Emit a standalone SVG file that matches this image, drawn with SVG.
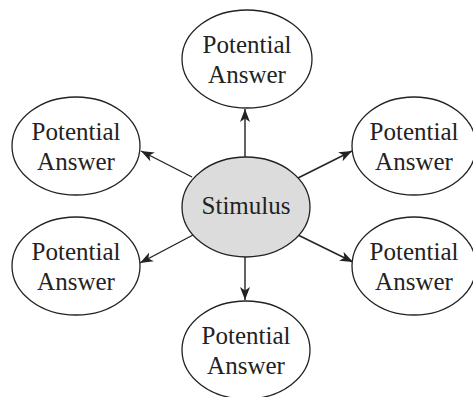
<svg xmlns="http://www.w3.org/2000/svg" width="473" height="397" viewBox="0 0 473 397">
<style>
.n{fill:#fff;stroke:#222;stroke-width:1.3}
.s{fill:#dcdcdd;stroke:#222;stroke-width:1.3}
text{font-family:"Liberation Serif","Times New Roman",serif;font-size:25px;fill:#222;text-anchor:middle}
.c{stroke:#222;stroke-width:1.4;fill:none;marker-end:url(#ah)}
</style>
<defs>
<marker id="ah" markerWidth="14" markerHeight="10" refX="13" refY="5" orient="auto" markerUnits="userSpaceOnUse">
<path d="M0,0 L13,5 L0,10 L3.5,5 Z" fill="#222"/>
</marker>
</defs>
<rect width="473" height="397" fill="#fff"/>
<g id="connectors">
<line class="c" x1="245" y1="157" x2="245" y2="109"/>
<line class="c" x1="192" y1="177" x2="141" y2="151"/>
<line class="c" x1="298" y1="178" x2="352" y2="151"/>
<line class="c" x1="193" y1="235" x2="140" y2="263"/>
<line class="c" x1="298" y1="235" x2="353" y2="262"/>
<line class="c" x1="245" y1="257" x2="245" y2="300"/>
</g>
<g id="stimulus">
<ellipse class="s" cx="246" cy="207" rx="64" ry="50"/>
<text x="246" y="214">Stimulus</text>
</g>
<g id="answer-top">
<ellipse class="n" cx="247" cy="59" rx="65" ry="49"/>
<text x="247" y="53">Potential</text>
<text x="247" y="83">Answer</text>
</g>
<g id="answer-upper-left">
<ellipse class="n" cx="76" cy="146" rx="64" ry="49"/>
<text x="76" y="140">Potential</text>
<text x="76" y="170">Answer</text>
</g>
<g id="answer-upper-right">
<ellipse class="n" cx="414" cy="146" rx="62" ry="49"/>
<text x="414" y="140">Potential</text>
<text x="414" y="170">Answer</text>
</g>
<g id="answer-lower-left">
<ellipse class="n" cx="76" cy="266" rx="64" ry="49"/>
<text x="76" y="260">Potential</text>
<text x="76" y="290">Answer</text>
</g>
<g id="answer-lower-right">
<ellipse class="n" cx="414" cy="266" rx="62" ry="49"/>
<text x="414" y="260">Potential</text>
<text x="414" y="290">Answer</text>
</g>
<g id="answer-bottom">
<ellipse class="n" cx="246" cy="350" rx="64" ry="49"/>
<text x="246" y="344">Potential</text>
<text x="246" y="374">Answer</text>
</g>
</svg>
